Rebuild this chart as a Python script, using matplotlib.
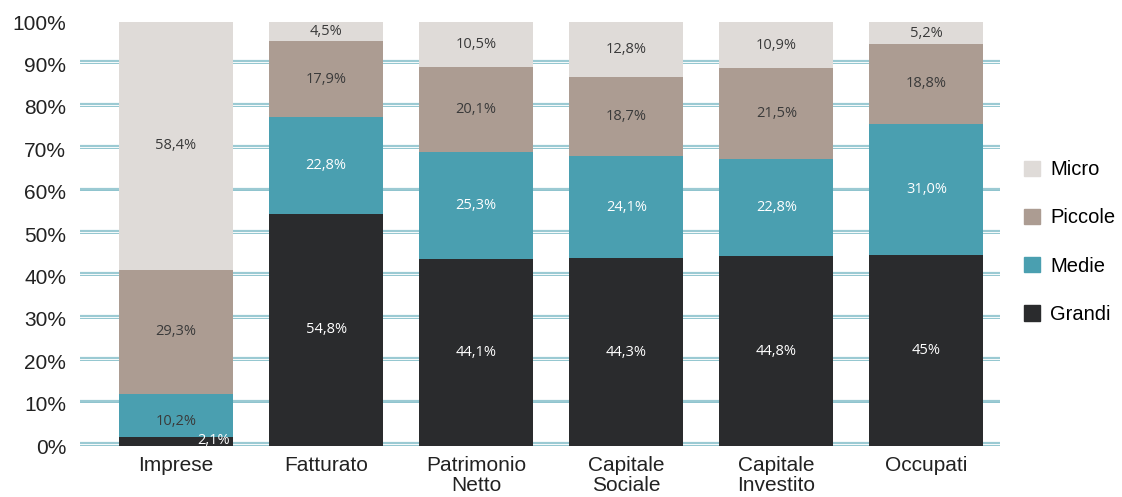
import matplotlib.pyplot as plt
import numpy as np
from matplotlib.patches import Patch

categories = ["Imprese", "Fatturato", "Patrimonio\nNetto", "Capitale\nSociale", "Capitale\nInvestito", "Occupati"]
grandi = [2.1, 54.8, 44.1, 44.3, 44.8, 45.0]
medie = [10.2, 22.8, 25.3, 24.1, 22.8, 31.0]
piccole = [29.3, 17.9, 20.1, 18.7, 21.5, 18.8]
micro = [58.4, 4.5, 10.5, 12.8, 10.9, 5.2]
grandi_lbl = ["2,1%", "54,8%", "44,1%", "44,3%", "44,8%", "45%"]
medie_lbl = ["10,2%", "22,8%", "25,3%", "24,1%", "22,8%", "31,0%"]
piccole_lbl = ["29,3%", "17,9%", "20,1%", "18,7%", "21,5%", "18,8%"]
micro_lbl = ["58,4%", "4,5%", "10,5%", "12,8%", "10,9%", "5,2%"]

c_micro = "#DFDBD8"
c_piccole = "#AC9C92"
c_medie = "#4A9FB0"
c_grandi = "#2A2B2D"
grid_col = "#4A9FB0"

fig = plt.figure(figsize=(11.22, 4.97), dpi=100)
ax = fig.add_axes([80 / 1122, 51 / 497, 920 / 1122, 424 / 497])

x = np.arange(len(categories))
w = 0.76

# sketchy gridlines
for t in range(0, 101, 10):
    ax.axhline(t + 0.7, color=grid_col, lw=1.6, alpha=0.55, zorder=0)
    ax.axhline(t + 0.3, color=grid_col, lw=0.7, alpha=0.6, zorder=0)

ax.bar(x, grandi, w, color=c_grandi, zorder=2)
bottom = np.array(grandi)
ax.bar(x, medie, w, bottom=bottom, color=c_medie, zorder=2)
bottom = bottom + np.array(medie)
ax.bar(x, piccole, w, bottom=bottom, color=c_piccole, zorder=2)
bottom = bottom + np.array(piccole)
ax.bar(x, micro, w, bottom=bottom, color=c_micro, zorder=2)

lblfont = dict(family="Open Sans", fontsize=10.5)
for i in range(len(categories)):
    b0 = 0
    for vals, lbls, col in [(grandi, grandi_lbl, "white"), (medie, medie_lbl, "white"),
                            (piccole, piccole_lbl, "#3a3a3a"), (micro, micro_lbl, "#3a3a3a")]:
        if i == 0 and vals is grandi:
            ax.text(x[i] + w / 2 - 0.02, 1.3, lbls[i], ha="right", va="center", color=col, **lblfont)
        elif i == 0 and vals is medie:
            ax.text(x[i], b0 + vals[i] / 2 - 1.5, lbls[i], ha="center", va="center", color="#3a3a3a", **lblfont)
        else:
            ax.text(x[i], b0 + vals[i] / 2, lbls[i], ha="center", va="center", color=col, **lblfont)
        b0 += vals[i]

ax.set_xlim(-0.64, 5.49)
ax.set_ylim(0, 100)
ax.set_yticks(range(0, 101, 10))
ax.set_yticklabels([f"{t}%" for t in range(0, 101, 10)], family="Liberation Sans", fontsize=15, color="#222222")
ax.set_xticks(x)
ax.set_xticklabels(categories, family="Liberation Sans", fontsize=15, color="#222222", linespacing=1.1)
ax.tick_params(length=0, axis="y", pad=10)
ax.tick_params(length=0, axis="x", pad=7)
for s in ax.spines.values():
    s.set_visible(False)

handles = [Patch(color=c_micro, label="Micro"), Patch(color=c_piccole, label="Piccole"),
           Patch(color=c_medie, label="Medie"), Patch(color=c_grandi, label="Grandi")]
fig.legend(handles=handles, loc="center left", bbox_to_anchor=(1014 / 1122, 0.513), frameon=False,
           prop=dict(family="Liberation Sans", size=14.5), handlelength=0.8, handleheight=0.8,
           labelspacing=1.45, handletextpad=0.5, borderpad=0)

fig.savefig("out.png", dpi=100)
